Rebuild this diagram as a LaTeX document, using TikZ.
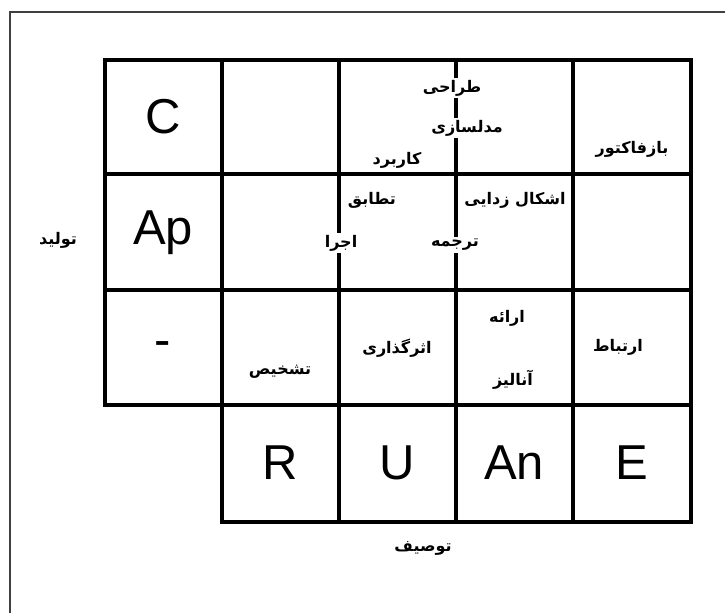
\documentclass[tikz,border=0pt]{standalone}
\usepackage{fontspec}
\setmainfont{Liberation Sans}
\newfontfamily\persianfont[Script=Arabic]{DejaVu Sans}
\TeXXeTstate=1
\usetikzlibrary{positioning}
\definecolor{framegray}{HTML}{404040}

\begin{document}
\begin{tikzpicture}[x=1pt, y=-1pt,
  gridline/.style={black, line width=3.2pt, line cap=rect, line join=miter},
  frameline/.style={framegray, line width=2pt},
  letter/.style={font=\fontsize{49}{50}\selectfont, text=black, inner sep=0pt},
  falabel/.style={font=\persianfont\bfseries\fontsize{16}{18}\selectfont,
                  text=black, fill=white, inner xsep=4pt, inner ysep=2pt},
]
\useasboundingbox (0,0) rectangle (725,613);
\fill[white] (0,0) rectangle (725,613);

% outer frame (cut at right and bottom)
\draw[frameline] (10,613) -- (10,12) -- (725,12);

% grid: three full rows, bottom row without the first column
\draw[gridline] (105,60) rectangle (691,405);
\draw[gridline] (222,405) rectangle (691,522);
\foreach \gx in {222,339,456,573}
  \draw[gridline] (\gx,60) -- (\gx,522);
\foreach \gy in {174,290}
  \draw[gridline] (105,\gy) -- (691,\gy);

% first column letters
\node[letter] (c)  at (163,117) {C};
\node[letter] (ap) at (163,233) {Ap};
\node[letter] (dash) at (163,349) {-};

% bottom row letters
\node[letter] (r)  at (280,463) {R};
\node[letter] (u)  at (397,463) {U};
\node[letter] (an) at (514,463) {An};
\node[letter] (e)  at (632,463) {E};

% axis labels
\node[falabel] (tolid) at (58,240) {\beginR تولید\endR};
\node[falabel] (tosif) at (423,548) {\beginR توصیف\endR};

% row 1
\node[falabel] (tarahi)    at (452,88)  {\beginR طراحی\endR};
\node[falabel] (modelsazi) at (467,128) {\beginR مدلسازی\endR};
\node[falabel] (karbord)   at (397,160) {\beginR کاربرد\endR};
\node[falabel] (bazfactor) at (632,149) {\beginR بازفاکتور\endR};

% row 2
\node[falabel] (tatabogh) at (372,200) {\beginR تطابق\endR};
\node[falabel] (eshkal)   at (515,200) {\beginR اشکال زدایی\endR};
\node[falabel] (ejra)     at (341,243) {\beginR اجرا\endR};
\node[falabel] (tarjome)  at (455,245) {\beginR ترجمه\endR};

% row 3
\node[falabel] (tashkhis) at (280,372) {\beginR تشخیص\endR};
\node[falabel] (asar)     at (397,348) {\beginR اثرگذاری\endR};
\node[falabel] (erae)     at (507,318) {\beginR ارائه\endR};
\node[falabel] (analiz)   at (513,380) {\beginR آنالیز\endR};
\node[falabel] (ertebat)  at (618,347) {\beginR ارتباط\endR};
\end{tikzpicture}
\end{document}
